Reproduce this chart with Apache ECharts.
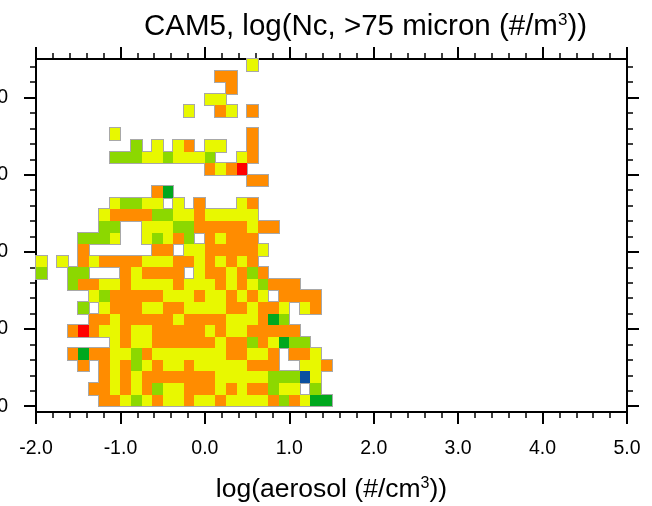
<!DOCTYPE html>
<html>
<head>
<meta charset="utf-8">
<script src="https://cdn.jsdelivr.net/npm/echarts@6/dist/echarts.min.js"></script>
<style>
    html, body { margin: 0; padding: 0; background: #fff; }
    #main { width: 652px; height: 506px; }
</style>
</head>
<body>
<div id="main"></div>
<script>
    // bin layout of the 2d histogram
    let xStart = -2.0, xStep = 0.125;
    let yStart = 0.0, yStep = 0.15;

    // colour classes: b=blue g=green l=light green y=yellow o=orange r=red
    let levelKeys = ['b', 'g', 'l', 'y', 'o', 'r'];
    let levelColors = ['#0a50a0', '#00a81e', '#8cd800', '#e8f800', '#ff8c00', '#ff0000'];

    // one string per row, top row first, one char per x bin ('.' = empty)
    let cellRows = [
        '....................y.......',
        '.................oo.........',
        '..................o.........',
        '................yy..........',
        '..............y..oy.o.......',
        '............................',
        '.......y............o.......',
        '.........l.y.yo.yy..o.......',
        '.......lllyylyyyl..yo.......',
        '................oyor........',
        '....................oo......',
        '...........og...............',
        '.......yllyy.y.o...yo.......',
        '......yoooollyyoyyyyy.......',
        '......ll..yyylloooooyoo.....',
        '....llly..ylyol.oyooo.......',
        '....o......oo.yyoooooy......',
        'y.y.oyooooyyyooyoyoyo.......',
        'l..ll...oyoooo.yooyolo......',
        '...looyyoyyyyoyyyoyoylooo...',
        '.....yloooooyyyoyyoyoy.oooo.',
        '....l.yoooyyooyyyyooyooy.yo.',
        '.....ooyoooooyooooyyyogl....',
        '...oroyyoyyoooooyoyyooooo...',
        '.......yoyyooooooyooloygll..',
        '...ogooyyloyyyyyyyooyyo.ooy.',
        '....o.oyolyoyyoyyyyyooo..yyo',
        '......oyoyoooooooyyyyylllby.',
        '.....ooyoyolyyoooyoyoolyy.l.',
        '......ooylyoyyoyyoyyyyoloygg'
    ];

    let yMajorTicks = [0, 1, 2, 3, 4];
    let yMinorTicks = [0.2, 0.4, 0.6, 0.8, 1.2, 1.4, 1.6, 1.8, 2.2, 2.4, 2.6, 2.8,
        3.2, 3.4, 3.6, 3.8, 4.2, 4.4];

    let chart = echarts.init(document.getElementById('main'));

    let cells = [];
    let nRows = cellRows.length;
    for (let i = 0; i < nRows; i++) {
        let row = cellRows[i];
        let yLow = yStart + (nRows - 1 - i) * yStep;
        for (let j = 0; j < row.length; j++) {
            let k = levelKeys.indexOf(row[j]);
            if (k < 0) continue;
            cells.push([xStart + j * xStep, yLow, k]);
        }
    }

    function cellRect(api) {
        let x0 = api.value(0);
        let y0 = api.value(1);
        let p0 = api.coord([x0, y0]);
        let p1 = api.coord([x0 + xStep, y0 + yStep]);
        let left = Math.round(p0[0]), right = Math.round(p1[0]);
        let top = Math.round(p1[1]), bottom = Math.round(p0[1]);
        return {x: left, y: top, width: right - left, height: bottom - top};
    }

    let font = 'Liberation Sans';
    let black = '#000';

    function xAxisDef(pos) {
        let bottom = pos === 'bottom';
        return {
            type: 'value',
            position: pos,
            min: -2,
            max: 5,
            interval: 1,
            axisLine: {show: true, onZero: false, lineStyle: {color: black, width: 2}},
            axisTick: {show: true, inside: false, length: 12, lineStyle: {color: black, width: 2}},
            minorTick: {show: true, splitNumber: 5, length: 6, lineStyle: {color: black, width: 1.5}},
            splitLine: {show: false},
            minorSplitLine: {show: false},
            axisLabel: {
                show: bottom,
                margin: 27,
                fontSize: 19.5,
                fontFamily: font,
                color: black,
                formatter: function (v) { return v.toFixed(1); }
            },
            name: bottom ? 'log(aerosol (#/cm{sup|3}))' : '',
            nameLocation: 'middle',
            nameGap: 64,
            nameTextStyle: {
                fontSize: 26.5,
                fontFamily: font,
                color: black,
                rich: {sup: {fontSize: 16, fontFamily: font, color: black, verticalAlign: 'top', padding: [0, 0, 12, 0]}}
            }
        };
    }

    function yAxisDef(pos, ticks, len, showLine, showLabel) {
        return {
            type: 'value',
            position: pos,
            min: yStart - yStep / 2,
            max: 4.5,
            axisLine: {show: showLine, onZero: false, lineStyle: {color: black, width: 2}},
            axisTick: {show: true, inside: false, customValues: ticks, length: len,
                lineStyle: {color: black, width: len > 8 ? 2 : 1.5}},
            splitLine: {show: false},
            axisLabel: {
                show: showLabel,
                customValues: ticks,
                margin: 28,
                fontSize: 19.5,
                fontFamily: font,
                color: black,
                formatter: function (v) { return v.toFixed(1); }
            }
        };
    }

    let option = {
        animation: false,
        backgroundColor: '#fff',
        title: {
            text: 'CAM5, log(Nc, >75 micron (#/m{sup|3}))',
            left: 139,
            top: 7,
            textStyle: {
                fontSize: 29.5,
                fontWeight: 'normal',
                fontFamily: font,
                color: black,
                rich: {sup: {fontSize: 17, fontFamily: font, color: black, verticalAlign: 'top', padding: [0, 0, 13, 0]}}
            }
        },
        grid: {left: 36, right: 25, top: 59, bottom: 94, containLabel: false, outerBoundsMode: 'none'},
        xAxis: [xAxisDef('bottom'), xAxisDef('top')],
        yAxis: [
            yAxisDef('left', yMajorTicks, 12, true, true),
            yAxisDef('right', yMajorTicks, 12, true, false),
            yAxisDef('left', yMinorTicks, 6, false, false),
            yAxisDef('right', yMinorTicks, 6, false, false)
        ],
        series: [
            {
                // grey halo round the filled area
                type: 'custom',
                xAxisIndex: 0,
                yAxisIndex: 0,
                data: cells,
                encode: {x: 0, y: 1},
                z: 1,
                renderItem: function (params, api) {
                    return {
                        type: 'rect',
                        shape: cellRect(api),
                        style: {fill: 'none', stroke: '#a8a8a8', lineWidth: 2}
                    };
                }
            },
            {
                type: 'custom',
                xAxisIndex: 0,
                yAxisIndex: 0,
                data: cells,
                encode: {x: 0, y: 1},
                z: 2,
                renderItem: function (params, api) {
                    return {
                        type: 'rect',
                        shape: cellRect(api),
                        style: {fill: levelColors[api.value(2)]}
                    };
                }
            }
        ]
    };

    chart.setOption(option);
</script>
</body>
</html>
